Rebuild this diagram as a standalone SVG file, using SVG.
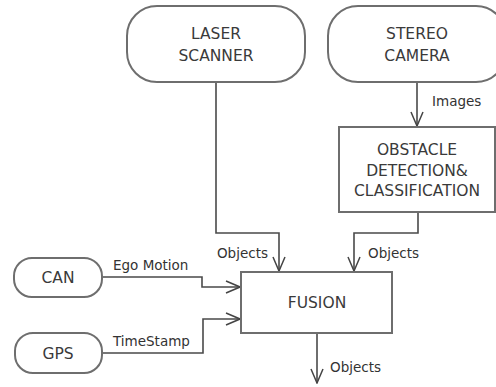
<svg xmlns="http://www.w3.org/2000/svg" width="496" height="387" viewBox="0 0 496 387">
  <defs>
    <marker id="arrow" viewBox="0 0 16 14" refX="15" refY="7" markerWidth="16" markerHeight="14" markerUnits="userSpaceOnUse" orient="auto">
      <path d="M1,1 L15,7 L1,13" fill="none" stroke="#444" stroke-width="1.5"/>
    </marker>
  </defs>
  <style>
    .node { fill: #fff; stroke: #6e6e6e; stroke-width: 2; }
    .title { font-family: "DejaVu Sans", sans-serif; font-size: 15.5px; fill: #3a3a3a; text-anchor: middle; }
    .edge { fill: none; stroke: #4a4a4a; stroke-width: 1.6; marker-end: url(#arrow); }
    .label { font-family: "DejaVu Sans", sans-serif; font-size: 13.5px; fill: #333; }
  </style>
  <rect width="496" height="387" fill="#fff"/>

  <g id="connectors">
    <path class="edge" d="M216,82 V233 H279 V271"/>
    <path class="edge" d="M417,82 V126"/>
    <path class="edge" d="M418,213 V233 H354 V271"/>
    <path class="edge" d="M102,277 H202 V287 H240"/>
    <path class="edge" d="M102,353 H203 V319 H240"/>
    <path class="edge" d="M317,334 V383"/>
    <text class="label" x="432" y="106">Images</text>
    <text class="label" x="268" y="258" text-anchor="end">Objects</text>
    <text class="label" x="368" y="258">Objects</text>
    <text class="label" x="113" y="270">Ego Motion</text>
    <text class="label" x="113" y="346">TimeStamp</text>
    <text class="label" x="330" y="372">Objects</text>
  </g>

  <g id="laser-scanner">
    <rect class="node" x="127" y="6" width="178" height="76" rx="30" ry="30"/>
    <text class="title" x="216" y="39">LASER</text>
    <text class="title" x="216" y="61">SCANNER</text>
  </g>

  <g id="stereo-camera">
    <rect class="node" x="328" y="6" width="178" height="76" rx="30" ry="30"/>
    <text class="title" x="417" y="39">STEREO</text>
    <text class="title" x="417" y="61">CAMERA</text>
  </g>

  <g id="obstacle-detection">
    <rect class="node" x="339" y="127" width="156" height="85"/>
    <text class="title" x="417" y="155">OBSTACLE</text>
    <text class="title" x="417" y="176">DETECTION&amp;</text>
    <text class="title" x="417" y="196">CLASSIFICATION</text>
  </g>

  <g id="fusion">
    <rect class="node" x="241" y="272" width="151" height="61"/>
    <text class="title" x="317" y="308">FUSION</text>
  </g>

  <g id="can">
    <rect class="node" x="14" y="258" width="88" height="39" rx="18" ry="18"/>
    <text class="title" x="58" y="283">CAN</text>
  </g>

  <g id="gps">
    <rect class="node" x="15" y="333" width="87" height="40" rx="18" ry="18"/>
    <text class="title" x="58" y="359">GPS</text>
  </g>
</svg>
